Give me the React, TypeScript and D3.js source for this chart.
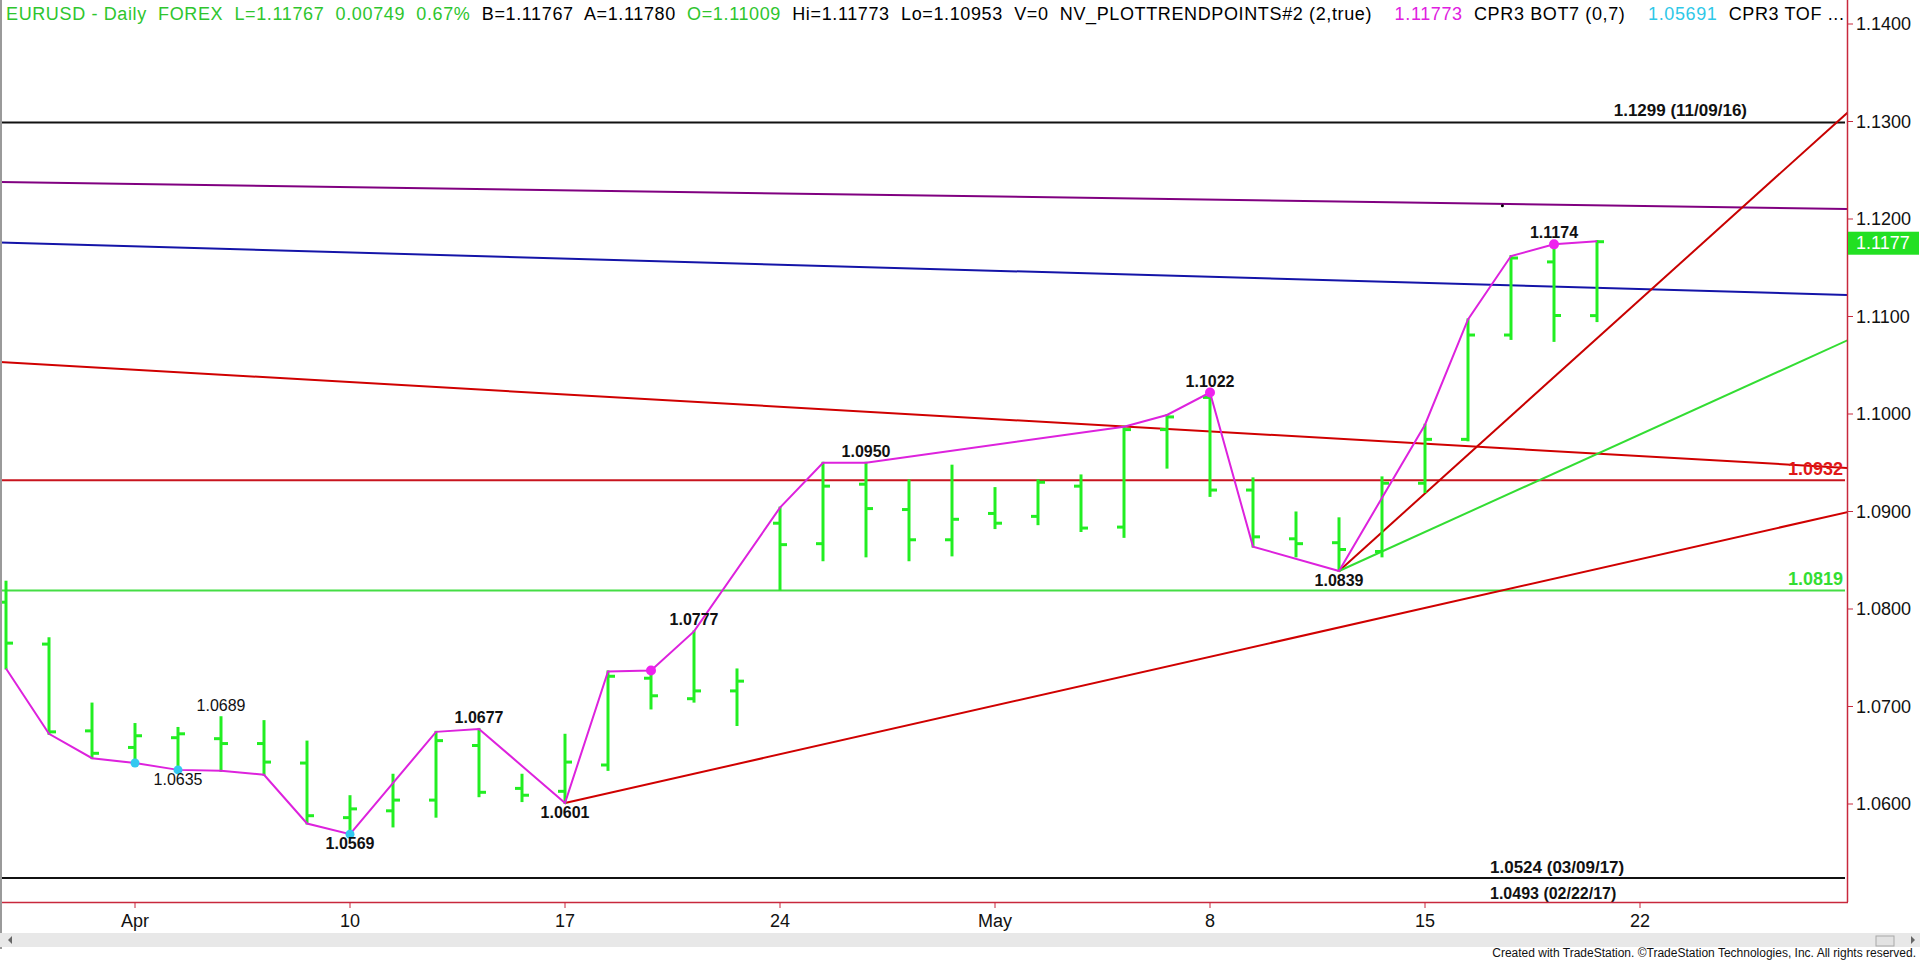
import React from "react";
import * as d3 from "d3";

// ---------- DATA ----------
const tradingDays = [
  "03/29", "03/30", "03/31", "04/03", "04/04", "04/05", "04/06", "04/07",
  "04/10", "04/11", "04/12", "04/13", "04/14", "04/17", "04/18", "04/19",
  "04/20", "04/21", "04/24", "04/25", "04/26", "04/27", "04/28", "05/01",
  "05/02", "05/03", "05/04", "05/05", "05/08", "05/09", "05/10", "05/11",
  "05/12", "05/15", "05/16", "05/17", "05/18", "05/19",
];
const opens = [
  1.0807, 1.0764, 1.0675, 1.0658, 1.0668, 1.0667, 1.0662, 1.0642,
  1.0586, 1.0593, 1.0604, 1.066, 1.0616, 1.0613, 1.064, 1.0729,
  1.0708, 1.0716, 1.0888, 1.0867, 1.0928, 1.0902, 1.0871, 1.0898,
  1.0895, 1.0926, 1.0884, 1.0984, 1.1017, 1.0922, 1.0872, 1.0868,
  1.0859, 1.0929, 1.0974, 1.1081, 1.1156, 1.11009,
];
const highs = [
  1.0828, 1.077, 1.0703, 1.0682, 1.0678, 1.0689, 1.0685, 1.0664,
  1.0608, 1.063, 1.0674, 1.0677, 1.063, 1.0671, 1.0736, 1.0737,
  1.0777, 1.0738, 1.0904, 1.095, 1.095, 1.0932, 1.0947, 1.0924,
  1.0932, 1.0937, 1.0987, 1.0999, 1.1022, 1.0934, 1.0899, 1.0893,
  1.0935, 1.0989, 1.1097, 1.1162, 1.1174, 1.11773,
];
const lows = [
  1.0739, 1.0672, 1.0647, 1.0642, 1.0635, 1.0634, 1.063, 1.058,
  1.0569, 1.0577, 1.0587, 1.0608, 1.0603, 1.0601, 1.0635, 1.0698,
  1.0705, 1.0681, 1.082, 1.085, 1.0854, 1.085, 1.0855, 1.0883,
  1.0887, 1.088, 1.0874, 1.0945, 1.0916, 1.0864, 1.0854, 1.0839,
  1.0854, 1.092, 1.0973, 1.1077, 1.1075, 1.10953,
];
const closes = [
  1.0765, 1.0674, 1.0652, 1.067, 1.0672, 1.0662, 1.0643, 1.0588,
  1.0595, 1.0604, 1.0665, 1.0612, 1.0609, 1.0643, 1.0731, 1.0711,
  1.0716, 1.0726, 1.0866, 1.0926, 1.0903, 1.0871, 1.0892, 1.0888,
  1.093, 1.0883, 1.0984, 1.0997, 1.0922, 1.0874, 1.0867, 1.0861,
  1.0929, 1.0974, 1.1081, 1.116, 1.1101, 1.11767,
];

// zig-zag trend points (bar index, price)
const zigIndex = [0, 1, 2, 3, 4, 5, 6, 7, 8, 10, 11, 13, 14, 15, 16, 18, 19, 20, 26, 27, 28, 29, 31, 33, 34, 35, 36, 37];
const zigPrice = [
  1.0739, 1.0672, 1.0647, 1.0642, 1.0635, 1.0634, 1.063, 1.058, 1.0569, 1.0674,
  1.0677, 1.0601, 1.0736, 1.0737, 1.0777, 1.0904, 1.095, 1.095, 1.0987, 1.0999,
  1.1022, 1.0864, 1.0839, 1.0989, 1.1097, 1.1162, 1.1174, 1.11773,
];
const magentaDotIndex = [15, 28, 36];
const cyanDotIndex = [3, 4, 8];

// pivot labels: bar index, price, above(1)/below(0), bold(1)/regular(0)
const pivotIndex = [5, 4, 8, 11, 13, 16, 20, 28, 31, 36];
const pivotPrice = [1.0689, 1.0635, 1.0569, 1.0677, 1.0601, 1.0777, 1.095, 1.1022, 1.0839, 1.1174];
const pivotAbove = [1, 0, 0, 1, 0, 1, 1, 1, 0, 1];
const pivotBold = [0, 0, 1, 1, 1, 1, 1, 1, 1, 1];

// trend lines: start (index, price) -> end (index, price)
const lineStartIndex = [-0.14, -0.14, -0.14, 13, 31, 31];
const lineStartPrice = [1.12379, 1.11759, 1.10533, 1.0601, 1.0839, 1.0839];
const lineEndIndex = [42.84, 42.84, 42.84, 42.84, 42.84, 42.84];
const lineEndPrice = [1.12103, 1.11221, 1.09446, 1.08995, 1.13097, 1.10759];

// horizontal levels
const levelPrices = [1.1299, 1.0524, 1.0932, 1.0819];
const lowLevelNote = 1.0493;

const yTicks = [1.06, 1.07, 1.08, 1.09, 1.1, 1.11, 1.12, 1.13, 1.14];
const xTickIndex = [3, 8, 13, 18, 23, 28, 33, 38];
const xTickLabels = ["Apr", "10", "17", "24", "May", "8", "15", "22"];

const lastPrice = 1.11767;

const headerParts = [
  "EURUSD - Daily  FOREX  L=1.11767  0.00749  0.67%  ",
  "B=1.11767  A=1.11780  ",
  "O=1.11009  ",
  "Hi=1.11773  Lo=1.10953  V=0  NV_PLOTTRENDPOINTS#2 (2,true)    ",
  "1.11773",
  "  CPR3 BOT7 (0,7)    ",
  "1.05691",
  "  CPR3 TOF ...",
];

// ---------- STYLE ----------
const W = 1920;
const H = 964;
const plotRight = 1847;
const plotBottom = 902;
const FONT = "Arial, 'Liberation Sans', sans-serif";
const NARROW = "'Liberation Sans Narrow', 'Arial Narrow', Arial, sans-serif";
const headerColors = ["#2EC52E", "#000", "#2EC52E", "#000", "#E020E0", "#000", "#2EC8E8", "#000"];
const lineColors = ["#800080", "#1414A8", "#D00000", "#D00000", "#C80000", "#33DD33"];
const BAR = "#22EE22";

export default function App() {
  const x = d3.scaleLinear().domain([0, 37]).range([6, 6 + 43 * 37]);
  const y = d3.scaleLinear().domain([1.06, 1.14]).range([804, 24]);
  const fmt = d3.format(".4f");

  const zig = d3
    .line<number>()
    .x((_, k) => x(zigIndex[k]))
    .y((p) => y(p));

  return (
    <svg
      width={W}
      height={H}
      style={{ position: "absolute", left: 0, top: 0, display: "block", background: "#fff" }}
      fontFamily={FONT}
    >
      <defs>
        <clipPath id="plot">
          <rect x={0} y={0} width={plotRight} height={plotBottom} />
        </clipPath>
      </defs>
      <rect x={0} y={0} width={W} height={H} fill="#fff" />

      <g clipPath="url(#plot)">
        {/* horizontal levels */}
        <line x1={0} x2={plotRight - 2} y1={y(levelPrices[0])} y2={y(levelPrices[0])} stroke="#111" strokeWidth={2} />
        <line x1={0} x2={plotRight - 2} y1={y(levelPrices[1])} y2={y(levelPrices[1])} stroke="#111" strokeWidth={2} />
        <line x1={0} x2={plotRight - 2} y1={y(levelPrices[2])} y2={y(levelPrices[2])} stroke="#C8141E" strokeWidth={2} />
        <line x1={0} x2={plotRight - 2} y1={y(levelPrices[3])} y2={y(levelPrices[3])} stroke="#44DD44" strokeWidth={2} />

        {/* trend lines */}
        {lineStartIndex.map((i0, k) => (
          <line
            key={"tl" + k}
            x1={x(i0)}
            y1={y(lineStartPrice[k])}
            x2={x(lineEndIndex[k])}
            y2={y(lineEndPrice[k])}
            stroke={lineColors[k]}
            strokeWidth={2}
          />
        ))}
        <circle cx={x(34.8)} cy={y(1.12137)} r={1.5} fill="#000" />

        {/* OHLC bars */}
        {opens.map((o, i) => {
          const cx = x(i);
          return (
            <g key={"b" + i} stroke={BAR} strokeWidth={3}>
              <line x1={cx} x2={cx} y1={y(highs[i]) - 1} y2={y(lows[i]) + 1} />
              <line x1={cx - 7} x2={cx} y1={y(o)} y2={y(o)} />
              <line x1={cx} x2={cx + 7} y1={y(closes[i])} y2={y(closes[i])} />
            </g>
          );
        })}

        {/* zigzag */}
        <path d={zig(zigPrice) || ""} fill="none" stroke="#DD22DD" strokeWidth={2} />
        {magentaDotIndex.map((i) => (
          <circle key={"m" + i} cx={x(i)} cy={y(highs[i])} r={5} fill="#EE22EE" />
        ))}
        {cyanDotIndex.map((i) => (
          <circle key={"c" + i} cx={x(i)} cy={y(lows[i])} r={4.5} fill="#33C8F0" />
        ))}

        {/* pivot labels */}
        {pivotIndex.map((i, k) => (
          <text
            key={"p" + k}
            x={x(i)}
            y={pivotAbove[k] ? y(pivotPrice[k]) - 6 : y(pivotPrice[k]) + 15}
            textAnchor="middle"
            fontSize={16}
            fontWeight={pivotBold[k] ? "bold" : "normal"}
            fill="#111"
          >
            {fmt(pivotPrice[k])}
          </text>
        ))}

        {/* level labels */}
        <text x={1747} y={y(levelPrices[0]) - 6} textAnchor="end" fontSize={17} fontWeight="bold" fill="#111">
          {fmt(levelPrices[0])} (11/09/16)
        </text>
        <text x={1490} y={y(levelPrices[1]) - 5} fontSize={17} fontWeight="bold" fill="#111">
          {fmt(levelPrices[1])} (03/09/17)
        </text>
        <text x={1843} y={y(levelPrices[2]) - 5} textAnchor="end" fontSize={18} fontWeight="bold" fill="#E01818">
          {fmt(levelPrices[2])}
        </text>
        <text x={1843} y={y(levelPrices[3]) - 5} textAnchor="end" fontSize={18} fontWeight="bold" fill="#33DD33">
          {fmt(levelPrices[3])}
        </text>
      </g>
      <text x={1490} y={899} fontSize={16} fontWeight="bold" fill="#111">
        {fmt(lowLevelNote)} (02/22/17)
      </text>

      {/* header */}
      <text x={6} y={20} fontSize={18} textLength={1838} lengthAdjust="spacing" style={{ whiteSpace: "pre" }}>
        {headerParts.map((t, k) => (
          <tspan key={"h" + k} fill={headerColors[k]}>
            {t}
          </tspan>
        ))}
      </text>

      {/* axes frame */}
      <line x1={plotRight + 0.5} x2={plotRight + 0.5} y1={0} y2={plotBottom} stroke="#C8283C" strokeWidth={1.5} />
      <line x1={0} x2={plotRight + 1} y1={plotBottom + 0.5} y2={plotBottom + 0.5} stroke="#C8283C" strokeWidth={1.5} />
      <line x1={1} x2={1} y1={0} y2={949} stroke="#9A9A9A" strokeWidth={2} />

      {/* y axis */}
      {yTicks.map((v) => (
        <g key={"y" + v}>
          <line x1={plotRight} x2={plotRight + 6} y1={y(v)} y2={y(v)} stroke="#C8283C" strokeWidth={1} />
          <text x={1856} y={y(v)} dy="0.36em" fontSize={18} fill="#111">
            {fmt(v)}
          </text>
        </g>
      ))}
      <rect x={plotRight + 1} y={y(lastPrice) - 10} width={71} height={23} fill="#22E022" />
      <text x={1856} y={y(lastPrice) + 1} dy="0.36em" fontSize={18} fill="#fff">
        {fmt(lastPrice)}
      </text>

      {/* x axis */}
      {xTickIndex.map((i, k) => (
        <g key={"x" + k}>
          <line x1={x(i)} x2={x(i)} y1={plotBottom} y2={plotBottom + 6} stroke="#C8283C" strokeWidth={1} />
          <text x={x(i)} y={927} textAnchor="middle" fontSize={18} fill="#111">
            {xTickLabels[k]}
          </text>
        </g>
      ))}

      {/* scrollbar */}
      <rect x={0} y={933} width={W} height={14} fill="#E8E8E8" />
      <path d="M 8 940 L 12 936 L 12 944 Z" fill="#666" />
      <rect x={1876} y={936} width={18} height={10} fill="#E2E2E2" stroke="#A8A8A8" />
      <path d="M 1911 936 L 1915 940 L 1911 944 Z" fill="#666" />

      {/* footer */}
      <text x={1916} y={957} textAnchor="end" fontSize={12} fill="#111" fontFamily={NARROW}>
        Created with TradeStation. ©TradeStation Technologies, Inc. All rights reserved.
      </text>
    </svg>
  );
}
